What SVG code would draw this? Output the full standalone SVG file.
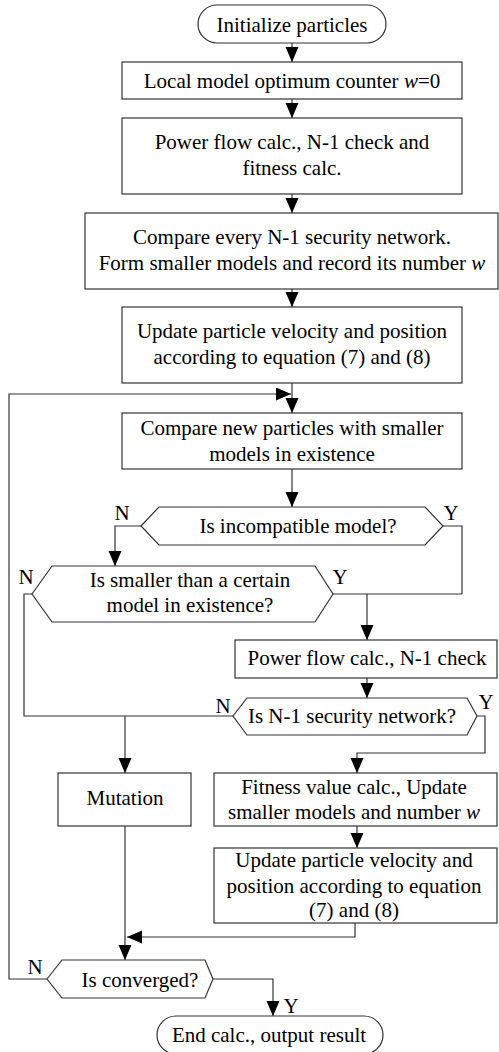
<svg xmlns="http://www.w3.org/2000/svg" width="499" height="1052" viewBox="0 0 499 1052">
<style>
.s{fill:#fff;stroke:#333;stroke-width:1.2}
.c{fill:none;stroke:#333;stroke-width:1.2}
text{font-family:'Liberation Serif','DejaVu Serif',serif;font-size:21px;fill:#000;text-anchor:middle}
</style>
<defs>
<marker id="ah" markerUnits="userSpaceOnUse" markerWidth="16" markerHeight="14" refX="15" refY="6.5" orient="auto">
<path d="M0,0 L15,6.5 L0,13 z" fill="#000"/>
</marker>
</defs>
<rect width="499" height="1052" fill="#fff"/>
<g id="connectors">
<path class="c" d="M292,43 V62" marker-end="url(#ah)"/>
<path class="c" d="M292,99 V118" marker-end="url(#ah)"/>
<path class="c" d="M292,194 V213" marker-end="url(#ah)"/>
<path class="c" d="M292,289 V307" marker-end="url(#ah)"/>
<path class="c" d="M292,383 V413" marker-end="url(#ah)"/>
<path class="c" d="M292,469 V507" marker-end="url(#ah)"/>
<path class="c" d="M141,526 H115 V566" marker-end="url(#ah)"/>
<path class="c" d="M443,526 H462 V594"/>
<path class="c" d="M333,594 H462"/>
<path class="c" d="M367,594 V640" marker-end="url(#ah)"/>
<path class="c" d="M32,594 H24 V716 H233"/>
<path class="c" d="M125,716 V773" marker-end="url(#ah)"/>
<path class="c" d="M367,678 V698" marker-end="url(#ah)"/>
<path class="c" d="M477,716 H485 V753 H357 V773" marker-end="url(#ah)"/>
<path class="c" d="M357,826 V848" marker-end="url(#ah)"/>
<path class="c" d="M355,923 V937 H127" marker-end="url(#ah)"/>
<path class="c" d="M125,826 V960" marker-end="url(#ah)"/>
<path class="c" d="M47,979 H9 V394 H291" marker-end="url(#ah)"/>
<path class="c" d="M213,979 H273 V1016" marker-end="url(#ah)"/>
<text x="122" y="520">N</text>
<text x="451" y="520">Y</text>
<text x="26" y="584">N</text>
<text x="340" y="584">Y</text>
<text x="223" y="713">N</text>
<text x="486" y="709">Y</text>
<text x="35" y="974">N</text>
<text x="291" y="1013">Y</text>
</g>
<g id="start">
<rect class="s" x="198" y="5" width="188" height="38" rx="19"/>
<text x="292" y="32">Initialize particles</text>
</g>
<g id="counter">
<rect class="s" x="122" y="62" width="340" height="37"/>
<text x="292" y="88">Local model optimum counter <tspan font-style="italic">w</tspan>=0</text>
</g>
<g id="powerflow1">
<rect class="s" x="122" y="118" width="340" height="76"/>
<text x="292" y="149">Power flow calc., N-1 check and</text>
<text x="292" y="175">fitness calc.</text>
</g>
<g id="compare1">
<rect class="s" x="85" y="213" width="413" height="76"/>
<text x="292" y="244">Compare every N-1 security network.</text>
<text x="292" y="270">Form smaller models and record its number <tspan font-style="italic">w</tspan></text>
</g>
<g id="update1">
<rect class="s" x="122" y="307" width="340" height="76"/>
<text x="292" y="338">Update particle velocity and position</text>
<text x="292" y="364">according to equation (7) and (8)</text>
</g>
<g id="compare2">
<rect class="s" x="122" y="413" width="340" height="56"/>
<text x="292" y="435">Compare new particles with smaller</text>
<text x="292" y="461">models in existence</text>
</g>
<g id="incompatible">
<polygon class="s" points="141,526 159,507 425,507 443,526 425,545 159,545"/>
<text x="298" y="533">Is incompatible model?</text>
</g>
<g id="smaller">
<polygon class="s" points="32,594 52,566 315,566 333,594 315,622 52,622"/>
<text x="190" y="587">Is smaller than a certain</text>
<text x="190" y="612">model in existence?</text>
</g>
<g id="powerflow2">
<rect class="s" x="235" y="640" width="262" height="38"/>
<text x="367" y="665">Power flow calc., N-1 check</text>
</g>
<g id="n1security">
<polygon class="s" points="233,716 247,698 467,698 477,716 467,735 247,735"/>
<text x="352" y="723">Is N-1 security network?</text>
</g>
<g id="mutation">
<rect class="s" x="58" y="773" width="133" height="53"/>
<text x="125" y="805">Mutation</text>
</g>
<g id="fitness">
<rect class="s" x="214" y="773" width="283" height="53"/>
<text x="354" y="794">Fitness value calc., Update</text>
<text x="354" y="819">smaller models and number <tspan font-style="italic">w</tspan></text>
</g>
<g id="update2">
<rect class="s" x="214" y="848" width="283" height="75"/>
<text x="354" y="867">Update particle velocity and</text>
<text x="354" y="893">position according to equation</text>
<text x="354" y="917">(7) and (8)</text>
</g>
<g id="converged">
<polygon class="s" points="47,979 62,960 205,960 213,979 205,998 62,998"/>
<text x="140" y="987">Is converged?</text>
</g>
<g id="end">
<rect class="s" x="157" y="1016" width="226" height="38" rx="19"/>
<text x="269" y="1042">End calc., output result</text>
</g>
</svg>
